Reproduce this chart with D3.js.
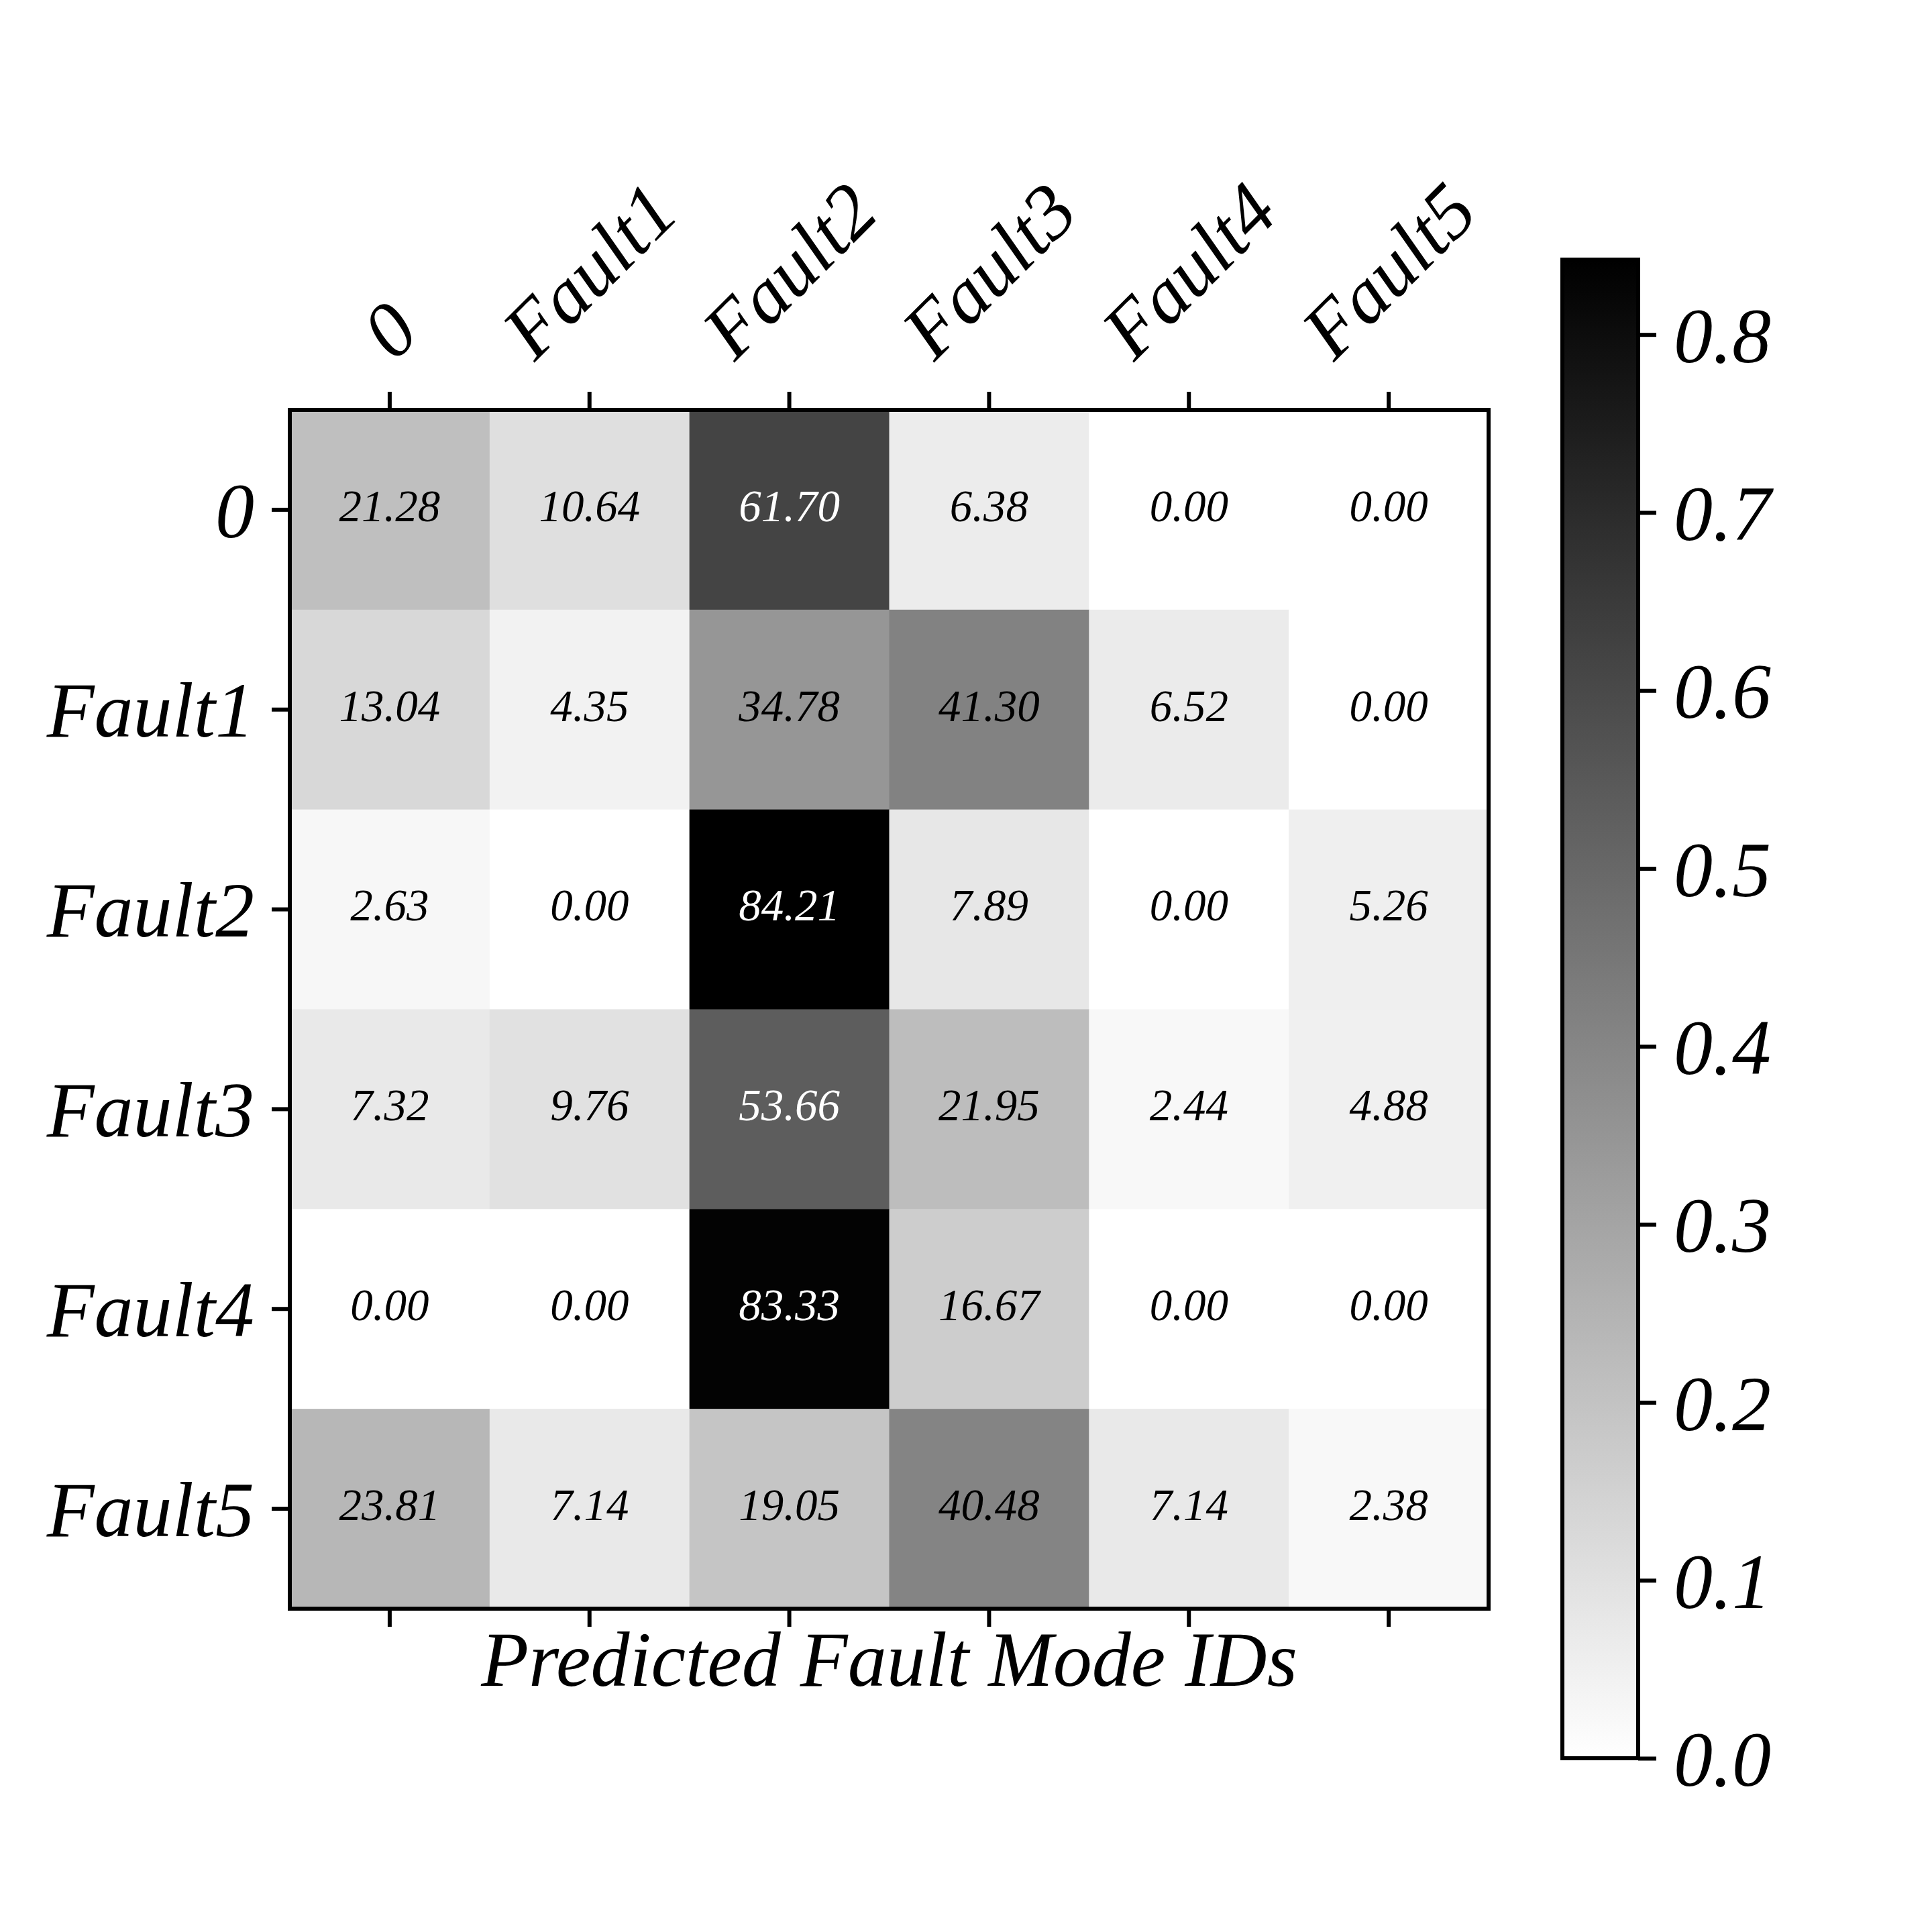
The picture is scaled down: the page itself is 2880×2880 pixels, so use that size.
<!DOCTYPE html>
<html>
<head>
<meta charset="utf-8">
<script src="https://cdn.jsdelivr.net/npm/d3@7"></script>
<style>
  body { margin: 0; background: #fff; }
  svg text { font-family: "Liberation Serif", "Times New Roman", serif; font-style: italic; }
</style>
</head>
<body>
<svg id="cm" width="2880" height="2880"></svg>
<script>
// Data (percent of each true class)
const trueLabels = ["0", "Fault1", "Fault2", "Fault3", "Fault4", "Fault5"];
const predLabels = ["0", "Fault1", "Fault2", "Fault3", "Fault4", "Fault5"];
const row0      = [21.28, 10.64, 61.70, 6.38, 0.00, 0.00];
const rowFault1 = [13.04, 4.35, 34.78, 41.30, 6.52, 0.00];
const rowFault2 = [2.63, 0.00, 84.21, 7.89, 0.00, 5.26];
const rowFault3 = [7.32, 9.76, 53.66, 21.95, 2.44, 4.88];
const rowFault4 = [0.00, 0.00, 83.33, 16.67, 0.00, 0.00];
const rowFault5 = [23.81, 7.14, 19.05, 40.48, 7.14, 2.38];
const colorbarTicks = [0.0, 0.1, 0.2, 0.3, 0.4, 0.5, 0.6, 0.7, 0.8];
const xLabel = "Predicted Fault Mode IDs";

const rows = [row0, rowFault1, rowFault2, rowFault3, rowFault4, rowFault5];

// Layout
const plotLeft = 432, plotTop = 611, plotSize = 1787;
const cbLeft = 2329, cbWidth = 113, cbTop = 387, cbBottom = 2621;
const tickLen = 27, tickPad = 26, fontSize = 116, annSize = 67;

const svg = d3.select("#cm");

// flatten cells
let cells = [];
rows.forEach(function(r, i) {
    r.forEach(function(v, j) {
        cells.push({ row: trueLabels[i], col: predLabels[j], val: v / 100 });
    });
});

const vmax = d3.max(cells, d => d.val);

let x = d3.scaleBand().domain(predLabels).range([plotLeft, plotLeft + plotSize]);
let y = d3.scaleBand().domain(trueLabels).range([plotTop, plotTop + plotSize]);
let color = d3.scaleLinear().domain([0, vmax]).range(["#ffffff", "#000000"]);

// cells
svg.append("g")
    .selectAll("rect")
    .data(cells)
    .enter()
    .append("rect")
    .attr("x", d => x(d.col))
    .attr("y", d => y(d.row))
    .attr("width", x.bandwidth() + 0.5)
    .attr("height", y.bandwidth() + 0.5)
    .attr("fill", d => color(d.val));

// annotations
svg.append("g")
    .selectAll("text")
    .data(cells)
    .enter()
    .append("text")
    .attr("x", d => x(d.col) + x.bandwidth() / 2)
    .attr("y", d => y(d.row) + y.bandwidth() / 2)
    .attr("dy", "0.25em")
    .attr("text-anchor", "middle")
    .attr("font-size", annSize)
    .attr("fill", d => d.val > vmax / 2 ? "#ffffff" : "#000000")
    .text(d => (d.val * 100).toFixed(2));

// frame
svg.append("rect")
    .attr("x", plotLeft).attr("y", plotTop)
    .attr("width", plotSize).attr("height", plotSize)
    .attr("fill", "none")
    .attr("stroke", "#000")
    .attr("stroke-width", 6);

function styleAxis(g) {
    g.select(".domain").remove();
    g.selectAll(".tick line").attr("stroke", "#000").attr("stroke-width", 6);
    g.selectAll(".tick text")
        .attr("font-size", fontSize)
        .attr("font-family", null)
        .attr("fill", "#000");
}

// top axis with rotated labels
const topAxis = svg.append("g")
    .attr("transform", "translate(0," + plotTop + ")")
    .call(d3.axisTop(x).tickSize(tickLen).tickSizeOuter(0))
    .call(styleAxis);

topAxis.selectAll(".tick text").each(function() {
    const t = d3.select(this);
    t.attr("text-anchor", "middle").attr("dy", "0.3375em").attr("y", 0);
    const w = this.getComputedTextLength();
    const h = (w + 1.107 * fontSize) / Math.SQRT2;
    const cy = -(tickLen + tickPad) - h / 2;
    t.attr("transform", "translate(0," + cy + ") rotate(-45)");
});

// bottom axis, ticks only
svg.append("g")
    .attr("transform", "translate(0," + (plotTop + plotSize) + ")")
    .call(d3.axisBottom(x).tickSize(tickLen).tickSizeOuter(0).tickFormat(""))
    .call(styleAxis);

// left axis
svg.append("g")
    .attr("transform", "translate(" + plotLeft + ",0)")
    .call(d3.axisLeft(y).tickSize(tickLen).tickPadding(tickPad).tickSizeOuter(0))
    .call(styleAxis)
    .selectAll(".tick text")
    .attr("dy", "0.35em");

// x label
svg.append("text")
    .attr("x", plotLeft + plotSize / 2)
    .attr("y", 2513)
    .attr("text-anchor", "middle")
    .attr("font-size", fontSize)
    .text(xLabel);

// colorbar
const defs = svg.append("defs");
const grad = defs.append("linearGradient")
    .attr("id", "cbgrad")
    .attr("x1", 0).attr("y1", 1).attr("x2", 0).attr("y2", 0);
grad.append("stop").attr("offset", "0%").attr("stop-color", color(0));
grad.append("stop").attr("offset", "100%").attr("stop-color", color(vmax));

let cbScale = d3.scaleLinear().domain([0, vmax]).range([cbBottom, cbTop]);

svg.append("rect")
    .attr("x", cbLeft).attr("y", cbTop)
    .attr("width", cbWidth).attr("height", cbBottom - cbTop)
    .attr("fill", "url(#cbgrad)")
    .attr("stroke", "#000")
    .attr("stroke-width", 6);

svg.append("g")
    .attr("transform", "translate(" + (cbLeft + cbWidth) + ",0)")
    .call(d3.axisRight(cbScale).tickValues(colorbarTicks).tickFormat(d3.format(".1f"))
        .tickSize(tickLen).tickPadding(tickPad).tickSizeOuter(0))
    .call(styleAxis)
    .selectAll(".tick text")
    .attr("dy", "0.35em");
</script>
</body>
</html>
